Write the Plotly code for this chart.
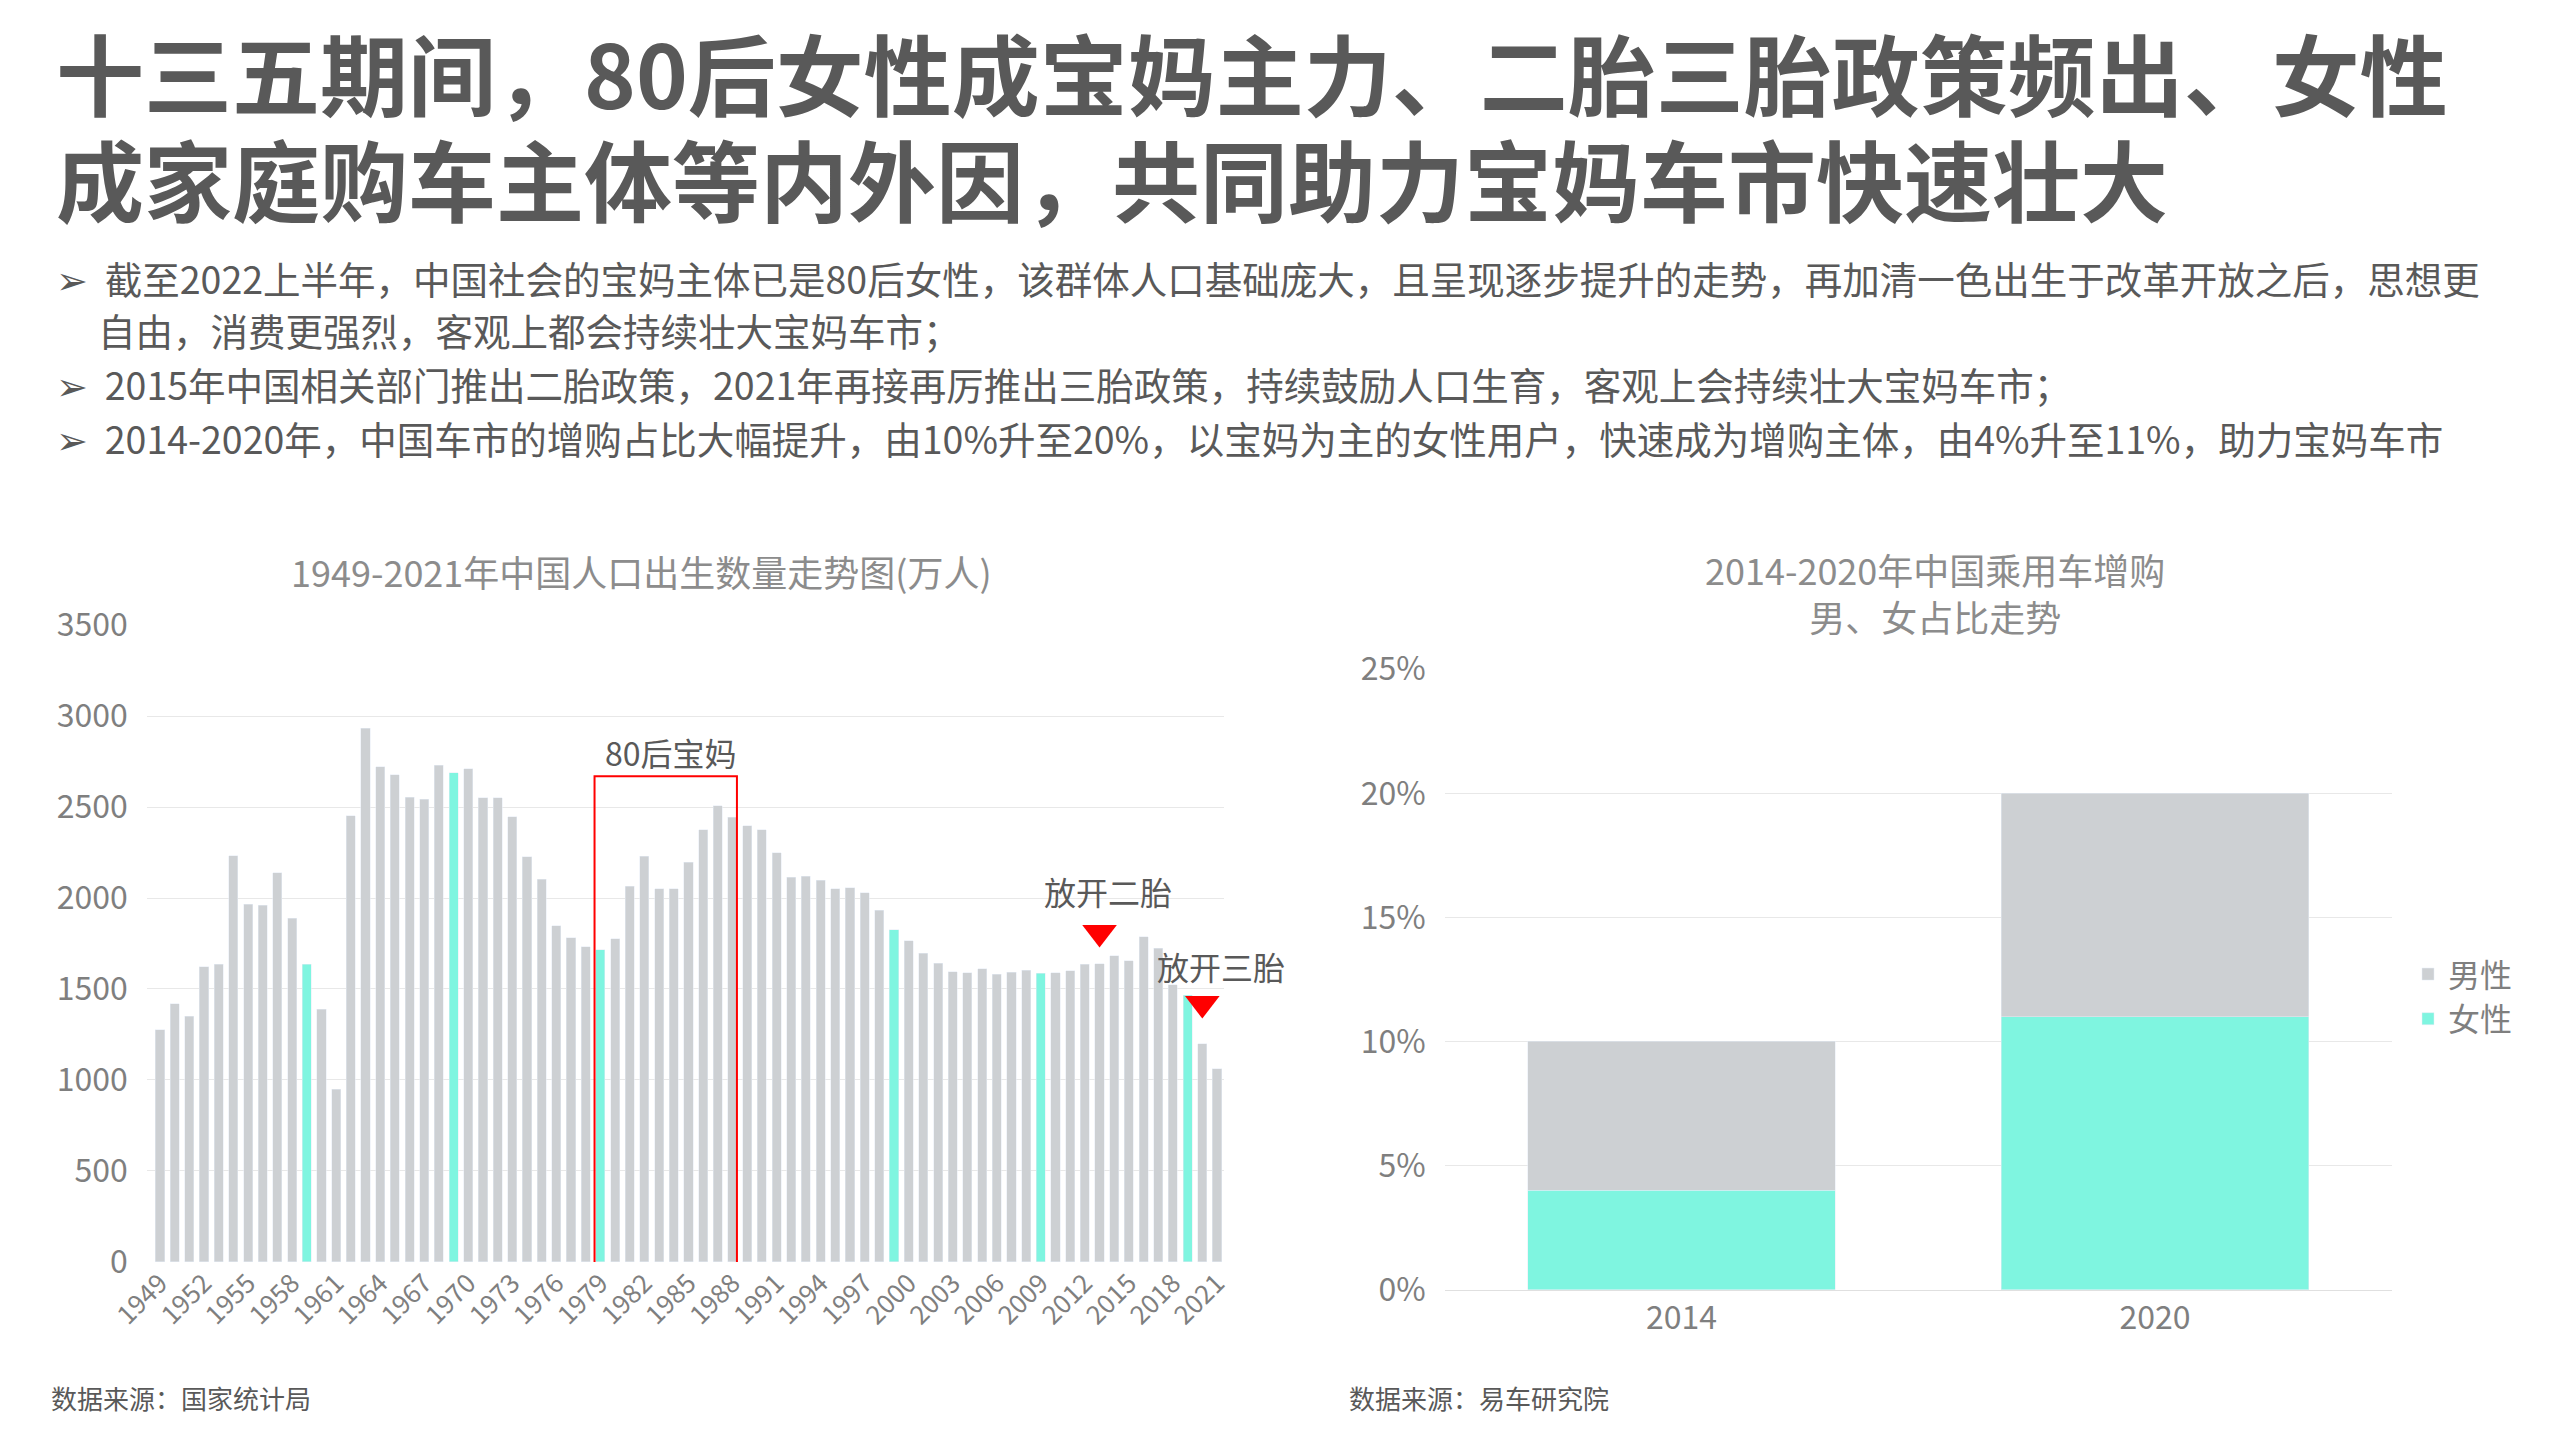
import plotly.graph_objects as go

years = list(range(1949, 2022))
births = [1275, 1419, 1349, 1622, 1637, 2232, 1965, 1961, 2138, 1889,
          1635, 1389, 949, 2451, 2934, 2721, 2679, 2554, 2543, 2731,
          2690, 2710, 2551, 2550, 2447, 2226, 2102, 1849, 1783, 1733,
          1715, 1776, 2064, 2230, 2052, 2050, 2196, 2374, 2508, 2445,
          2396, 2374, 2250, 2113, 2120, 2098, 2052, 2057, 2028, 1934,
          1827, 1765, 1696, 1641, 1594, 1588, 1612, 1581, 1591, 1604,
          1587, 1588, 1600, 1635, 1640, 1683, 1655, 1786, 1723, 1523,
          1465, 1200, 1062]
highlight_years = [1959, 1969, 1979, 1999, 2009, 2019]
marker_years = ["2013", "2020"]
marker_vals = [1810, 1420]

share_years = ["2014", "2020"]
female_share = [4, 11]
male_share = [6, 9]

GRAY = "#CDD0D3"
CYAN = "#7FF5E0"
TXT = "#595959"
FONT = "Noto Sans CJK SC"

W, H = 2560, 1440
def px(x, y):
    # 参考图坐标(1568x882)换算为 paper 坐标
    return x / 1568, 1 - y / 882

fig = go.Figure()

xcat = [str(y) for y in years]
bar_colors = [CYAN if y in highlight_years else GRAY for y in years]
fig.add_trace(go.Bar(x=xcat, y=births, marker_color=bar_colors, width=0.62,
                     showlegend=False, xaxis="x", yaxis="y"))

fig.add_trace(go.Bar(x=share_years, y=female_share, name="女性", marker_color=CYAN,
                     width=0.65, xaxis="x2", yaxis="y2"))
fig.add_trace(go.Bar(x=share_years, y=male_share, name="男性", marker_color=GRAY,
                     width=0.65, xaxis="x2", yaxis="y2"))

# 政策标记三角
fig.add_trace(go.Scatter(x=marker_years, y=marker_vals, mode="markers",
                         marker=dict(symbol="triangle-down", size=30, color="#FF0000"),
                         showlegend=False, xaxis="x", yaxis="y"))

l0, t0 = px(85, 378); l1, b0 = px(745, 768)
r0, rt = px(880, 405); r1, rb = px(1460, 785)

tick_font = dict(size=32, color="#7f7f7f")
fig.update_layout(
    width=W, height=H, barmode="stack", plot_bgcolor="white", paper_bgcolor="white",
    margin=dict(l=0, r=0, t=0, b=0),
    font=dict(family=FONT, color=TXT),
    xaxis=dict(domain=[l0, l1], anchor="y", type="category", tickangle=-45, automargin=False,
               range=[-0.9, 72.5], tickvals=[str(y) for y in years[::3]],
               tickfont=dict(size=26, color="#7f7f7f"), showline=False, ticks=""),
    yaxis=dict(domain=[b0, t0], anchor="x", range=[0, 3500], dtick=500, automargin=False,
               gridcolor="#E8E8E8", tickfont=tick_font, zeroline=False, ticklabelstandoff=18),
    xaxis2=dict(domain=[r0, r1], anchor="y2", type="category", automargin=False,
                tickfont=tick_font, showline=True, linecolor="#E0E0E0"),
    yaxis2=dict(domain=[rb, rt], anchor="x2", range=[0, 25], dtick=5, ticksuffix="%",
                automargin=False, gridcolor="#E8E8E8", tickfont=tick_font, zeroline=False,
                ticklabelstandoff=18),
    legend=dict(x=px(1470, 0)[0], y=px(0, 575)[1], xanchor="left", yanchor="top",
                traceorder="reversed", font=dict(size=32, color="#7f7f7f"),
                itemwidth=30, bgcolor="rgba(0,0,0,0)"),
    bargap=0.3,
)

# 80后宝妈框
fig.add_shape(type="rect", xref="x", yref="y", x0=29.6, x1=39.3, y0=-90, y1=2670,
              line=dict(color="#FF0000", width=2), fillcolor="rgba(0,0,0,0)")

def txt(x, y, s, size, color=TXT, anchor="left", yanchor="middle", bold=False):
    fx, fy = px(x, y)
    fig.add_annotation(x=fx, y=fy, xref="paper", yref="paper", text=f"<b>{s}</b>" if bold else s,
                       showarrow=False, xanchor=anchor, yanchor=yanchor,
                       align="center" if anchor == "center" else "left",
                       font=dict(size=size, color=color, family=FONT))

txt(28, 38, "十三五期间，80后女性成宝妈主力、二胎三胎政策频出、女性", 88, bold=True)
txt(28, 103, "成家庭购车主体等内外因，共同助力宝妈车市快速壮大", 88, bold=True)

bullets = [
    (165, "➢  截至2022上半年，中国社会的宝妈主体已是80后女性，该群体人口基础庞大，且呈现逐步提升的走势，再加清一色出生于改革开放之后，思想更"),
    (197, "     自由，消费更强烈，客观上都会持续壮大宝妈车市；"),
    (230, "➢  2015年中国相关部门推出二胎政策，2021年再接再厉推出三胎政策，持续鼓励人口生育，客观上会持续壮大宝妈车市；"),
    (263, "➢  2014-2020年，中国车市的增购占比大幅提升，由10%升至20%，以宝妈为主的女性用户，快速成为增购主体，由4%升至11%，助力宝妈车市"),
]
for y, s in bullets:
    txt(28, y, s, 37.5)

txt(388, 345, "1949-2021年中国人口出生数量走势图(万人)", 36, color="#8c8c8c", anchor="center")
txt(1180, 358, "2014-2020年中国乘用车增购<br>男、女占比走势", 36, color="#8c8c8c", anchor="center")
txt(406, 456, "80后宝妈", 32, anchor="center")
txt(674, 541, "放开二胎", 32, anchor="center")
txt(743, 587, "放开三胎", 32, anchor="center")
txt(25, 851, "数据来源：国家统计局", 26)
txt(820, 851, "数据来源：易车研究院", 26)

fig.write_html("out.html")
